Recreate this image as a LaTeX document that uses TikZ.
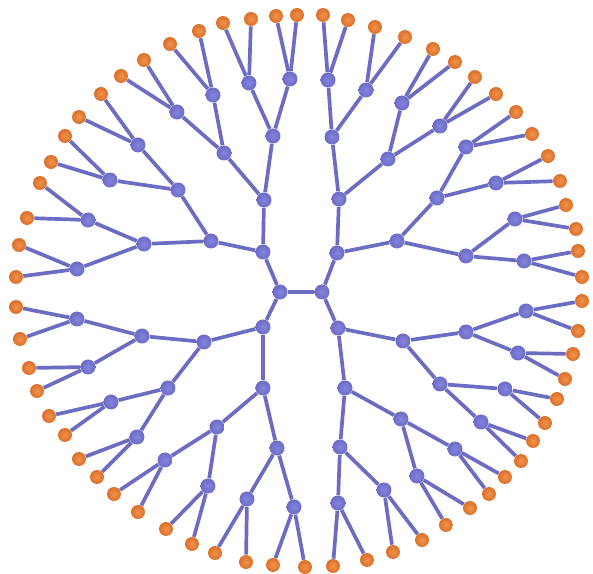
\documentclass[tikz,border=0pt]{standalone}
\usetikzlibrary{backgrounds}
\definecolor{treeblue}{RGB}{108,108,198}
\definecolor{treebluehi}{RGB}{132,132,222}
\definecolor{stemblue}{RGB}{108,108,194}
\definecolor{treeorange}{RGB}{218,112,44}
\definecolor{treeorangehi}{RGB}{242,146,72}

\begin{document}
\begin{tikzpicture}[x=0.02cm, y=-0.02cm,
    knotnode/.style={circle, inner sep=0pt, minimum size=0.3cm, shading=radial,
      inner color=treebluehi, outer color=treeblue},
    leafnode/.style={circle, inner sep=0pt, minimum size=0.28cm, shading=radial,
      inner color=treeorangehi, outer color=treeorange},
    branch/.style={stemblue, line width=2.1pt}]
  \useasboundingbox (0,0) rectangle (593,574);
  \foreach \n/\x/\y in {cl/280/292, cr/322/292, ul/263/252, ur/337/253, ll/263/327, lr/338/328,
      ul1/264/200, ul2/211/241, ul11/273/136, ul12/224/153, ul21/178/190, ul22/144/244,
      ul111/249/83, ul112/290/79, ul121/213/95, ul122/177/112, ul211/138/145, ul212/110/180, ul221/88/220, ul222/77/269,
      ur1/339/199, ur2/397/241, ur11/332/137, ur12/388/159, ur21/437/198, ur22/466/256,
      ur111/328/80, ur112/366/90, ur121/402/103, ur122/440/126, ur211/466/147, ur212/496/183, ur221/515/219, ur222/524/261,
      ll1/204/342, ll2/263/388, ll11/142/336, ll12/168/388, ll21/217/427, ll22/277/448,
      ll111/77/319, ll112/88/367, ll121/111/402, ll122/137/437, ll211/165/460, ll212/208/486, ll221/247/499, ll222/294/507,
      lr1/403/341, lr2/345/388, lr11/466/332, lr12/440/384, lr21/401/419, lr22/340/447,
      lr111/526/311, lr112/518/353, lr121/505/389, lr122/481/422, lr211/455/449, lr212/417/476, lr221/384/490, lr222/338/503}
    \node[knotnode] (\n) at (\x,\y) {};
  \foreach \n/\x/\y in {ul1111/251/19, ul1112/223/23, ul1121/276/16, ul1122/297/15,
      ul1211/199/31, ul1212/170/44, ul1221/144/60, ul1222/121/76,
      ul2111/101/94, ul2112/79/117, ul2121/65/136, ul2122/51/162,
      ul2211/40/183, ul2212/27/218, ul2221/19/245, ul2222/16/277,
      ur1111/323/15, ur1112/348/20, ur1121/375/27, ur1122/405/37,
      ur1211/433/49, ur1212/455/62, ur1221/475/77, ur1222/496/94,
      ur2111/516/112, ur2112/532/134, ur2121/548/156, ur2122/560/181,
      ur2211/566/205, ur2212/576/229, ur2221/578/251, ur2222/582/277,
      ll1111/16/307, ll1112/20/339, ll1121/29/368, ll1122/37/391,
      ll1211/49/416, ll1212/65/435, ll1221/79/459, ll1222/97/477,
      ll2111/114/494, ll2112/138/512, ll2121/166/529, ll2122/192/544,
      ll2211/215/553, ll2212/246/562, ll2221/273/565, ll2222/305/567,
      lr1111/582/301, lr1112/578/331, lr1121/573/354, lr1122/565/379,
      lr1211/557/399, lr1212/545/423, lr1221/533/441, lr1222/521/461,
      lr2111/505/477, lr2112/489/494, lr2121/470/508, lr2122/446/525,
      lr2211/422/540, lr2212/393/552, lr2221/367/560, lr2222/333/566}
    \node[leafnode] (\n) at (\x,\y) {};
  \begin{scope}[on background layer]
    \draw[branch] (cl) -- (cr) (cl) -- (ul) (cl) -- (ll) (cr) -- (ur) (cr) -- (lr);
    \foreach \q in {ul,ur,ll,lr}
      \foreach \a in {1,2}{
        \draw[branch] (\q) -- (\q\a);
        \foreach \b in {1,2}{
          \draw[branch] (\q\a) -- (\q\a\b);
          \foreach \c in {1,2}{
            \draw[branch] (\q\a\b) -- (\q\a\b\c);
            \foreach \d in {1,2}
              \draw[branch] (\q\a\b\c) -- (\q\a\b\c\d);
          }
        }
      }
  \end{scope}
\end{tikzpicture}
\end{document}
